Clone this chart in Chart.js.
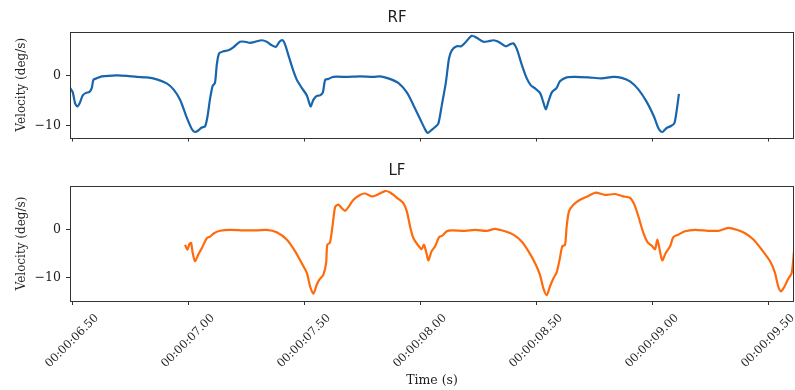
<!DOCTYPE html>
<html>
<head>
<meta charset="utf-8">
<script src="https://cdn.jsdelivr.net/npm/chart.js@4/dist/chart.umd.min.js"></script>
<style>
  body { margin: 0; background: #fff; }
  #wrap-rf { position: absolute; left: 0; top: 0; width: 795px; height: 150px; }
  #wrap-lf { position: absolute; left: 0; top: 160px; width: 795px; height: 230px; }
</style>
</head>
<body>
<div id="wrap-rf"><canvas id="chart-rf"></canvas></div>
<div id="wrap-lf"><canvas id="chart-lf"></canvas></div>
<script>
// ---- data (seconds / deg per second) ----
const rfTime = [6.491, 6.503, 6.513, 6.523, 6.534, 6.546, 6.560, 6.575, 6.585, 6.592, 6.606, 6.628, 6.693, 6.736, 6.779, 6.822, 6.865, 6.908, 6.937, 6.966, 6.994, 7.016, 7.030, 7.044, 7.059, 7.073, 7.083, 7.095, 7.106, 7.116, 7.124, 7.134, 7.152, 7.174, 7.195, 7.224, 7.246, 7.267, 7.289, 7.318, 7.339, 7.361, 7.379, 7.394, 7.408, 7.418, 7.432, 7.451, 7.469, 7.490, 7.512, 7.523, 7.529, 7.540, 7.555, 7.569, 7.581, 7.591, 7.605, 7.626, 7.684, 7.741, 7.799, 7.828, 7.863, 7.906, 7.943, 7.971, 8.000, 8.022, 8.033, 8.047, 8.065, 8.079, 8.094, 8.111, 8.125, 8.137, 8.158, 8.177, 8.194, 8.223, 8.244, 8.273, 8.294, 8.316, 8.338, 8.369, 8.388, 8.402, 8.417, 8.438, 8.460, 8.478, 8.496, 8.517, 8.531, 8.542, 8.553, 8.568, 8.589, 8.603, 8.632, 8.668, 8.725, 8.783, 8.833, 8.869, 8.905, 8.941, 8.977, 9.010, 9.027, 9.044, 9.063, 9.082, 9.096, 9.106, 9.116];
const rfVel = [-2.4, -3.3, -5.5, -6.1, -5.3, -3.9, -3.4, -3.2, -2.4, -0.8, -0.5, -0.1, 0.1, 0.0, -0.2, -0.3, -0.7, -1.5, -2.7, -4.8, -8.3, -10.6, -11.2, -10.9, -10.3, -10.1, -8.3, -4.5, -2.0, -1.4, 2.3, 4.5, 4.9, 5.1, 5.7, 6.8, 6.8, 6.6, 6.8, 7.1, 6.8, 6.1, 5.8, 6.8, 7.1, 6.3, 4.2, 1.4, -0.8, -2.4, -3.9, -5.5, -6.1, -4.8, -4.0, -3.9, -3.3, -0.8, -0.6, -0.2, -0.2, -0.1, -0.2, -0.1, -0.5, -1.4, -3.3, -5.8, -8.6, -10.7, -11.4, -10.9, -10.2, -9.5, -5.8, -1.4, 3.5, 5.1, 5.9, 5.9, 6.6, 8.0, 7.6, 6.8, 6.9, 7.1, 6.8, 5.9, 6.3, 6.5, 5.4, 2.3, -0.5, -1.9, -2.5, -3.4, -5.2, -6.7, -5.2, -3.3, -2.4, -1.1, -0.3, -0.2, -0.3, -0.5, -0.2, -0.4, -1.1, -2.7, -5.2, -8.3, -10.4, -11.2, -10.4, -10.0, -9.5, -7.0, -3.6];

const lfTime = [6.987, 6.997, 7.006, 7.013, 7.020, 7.030, 7.044, 7.059, 7.081, 7.095, 7.112, 7.138, 7.181, 7.238, 7.296, 7.339, 7.382, 7.425, 7.461, 7.490, 7.512, 7.526, 7.540, 7.555, 7.566, 7.583, 7.595, 7.600, 7.612, 7.626, 7.634, 7.648, 7.662, 7.677, 7.691, 7.713, 7.741, 7.763, 7.792, 7.813, 7.849, 7.871, 7.906, 7.928, 7.943, 7.957, 7.971, 7.993, 8.007, 8.017, 8.029, 8.036, 8.050, 8.065, 8.082, 8.096, 8.115, 8.137, 8.194, 8.237, 8.288, 8.323, 8.366, 8.402, 8.438, 8.467, 8.496, 8.517, 8.531, 8.546, 8.560, 8.575, 8.589, 8.603, 8.613, 8.625, 8.632, 8.642, 8.661, 8.690, 8.726, 8.757, 8.797, 8.841, 8.876, 8.905, 8.924, 8.941, 8.963, 8.981, 8.999, 9.013, 9.023, 9.033, 9.044, 9.059, 9.078, 9.092, 9.113, 9.142, 9.185, 9.243, 9.286, 9.329, 9.365, 9.401, 9.437, 9.473, 9.509, 9.530, 9.544, 9.556, 9.570, 9.585, 9.602, 9.612];
const lfVel = [-3.2, -4.2, -3.0, -2.8, -4.9, -6.6, -5.2, -3.9, -1.8, -1.5, -0.8, -0.3, -0.1, -0.2, -0.2, -0.1, -0.6, -2.1, -4.5, -7.0, -9.0, -11.8, -13.3, -11.4, -10.4, -9.4, -7.0, -3.2, -2.7, 2.0, 4.6, 5.1, 4.4, 3.8, 4.6, 6.1, 7.1, 7.4, 6.8, 7.1, 7.9, 7.6, 6.3, 5.4, 3.7, 0.6, -1.8, -3.4, -4.1, -3.2, -5.2, -6.4, -4.5, -3.5, -1.6, -1.3, -0.4, -0.2, -0.3, -0.1, -0.3, 0.1, -0.4, -1.1, -2.5, -4.5, -7.0, -9.4, -12.1, -13.6, -11.8, -10.1, -8.9, -5.9, -3.5, -3.2, 0.6, 3.7, 5.1, 6.1, 6.9, 7.6, 7.1, 7.3, 6.8, 6.5, 5.1, 2.7, -0.8, -2.7, -3.4, -4.1, -2.1, -4.2, -6.4, -4.9, -3.5, -1.6, -1.1, -0.4, -0.1, -0.3, -0.3, 0.3, -0.1, -0.8, -2.1, -4.2, -6.6, -9.0, -11.8, -12.8, -11.9, -10.4, -9.0, -4.5];

const xTicks = [6.5, 7.0, 7.5, 8.0, 8.5, 9.0, 9.5];
const yTicks = [-10, 0];

const X_MIN = 6.491, X_MAX = 9.612;
const INK = '#1e1e1e';
const SERIF = "'DejaVu Serif', serif";

function fmtTime(v) {
  return '00:00:' + v.toFixed(2).padStart(5, '0');
}

// full box around the plot area
const framePlugin = {
  id: 'frame',
  afterDraw(chart) {
    const { ctx, chartArea: a } = chart;
    ctx.save();
    ctx.strokeStyle = '#333';
    ctx.lineWidth = 1;
    ctx.strokeRect(Math.round(a.left) + 0.5, Math.round(a.top) + 0.5,
      Math.round(a.right - a.left) - 1, Math.round(a.bottom - a.top));
    ctx.restore();
  }
};

// rotated time labels, centred on their tick (matplotlib style)
const timeLabels = {
  id: 'timeLabels',
  afterDraw(chart) {
    const { ctx, chartArea: a } = chart;
    const sx = chart.scales.x;
    ctx.save();
    ctx.fillStyle = INK;
    ctx.font = "11.5px " + SERIF;
    ctx.textAlign = 'center';
    ctx.textBaseline = 'middle';
    xTicks.forEach(v => {
      const x = sx.getPixelForValue(v);
      ctx.save();
      ctx.translate(x, a.bottom + 40);
      ctx.rotate(-Math.PI / 4);
      ctx.fillText(fmtTime(v), 0, 0);
      ctx.restore();
    });
    ctx.restore();
  }
};

function makeChart(id, title, times, vels, color, yMin, yMax, bottom) {
  const titlePad = bottom ? { top: 2, bottom: 6 } : { top: 9, bottom: 5 };
  return new Chart(document.getElementById(id), {
    type: 'line',
    data: {
      datasets: [{
        data: times.map((t, i) => ({ x: t, y: vels[i] })),
        borderColor: color,
        borderWidth: 2.2,
        pointRadius: 0,
        tension: 0.25,
        fill: false
      }]
    },
    options: {
      responsive: true,
      maintainAspectRatio: false,
      animation: false,
      layout: { padding: { left: 0, right: 1, top: 0, bottom: 0 } },
      plugins: {
        legend: { display: false },
        tooltip: { enabled: false },
        title: {
          display: true,
          text: title,
          color: INK,
          font: { family: "'DejaVu Sans', sans-serif", size: 15, weight: 'normal', lineHeight: 1.2 },
          padding: titlePad
        }
      },
      scales: {
        x: {
          type: 'linear',
          min: X_MIN,
          max: X_MAX,
          afterBuildTicks: s => { s.ticks = xTicks.map(v => ({ value: v })); },
          afterFit: s => { s.height = bottom ? 89 : 5; },
          ticks: { display: false },
          grid: { drawOnChartArea: false, drawTicks: true, tickLength: 4, color: '#333' },
          border: { display: false },
          title: {
            display: bottom,
            text: 'Time (s)',
            color: INK,
            font: { family: SERIF, size: 12.5, lineHeight: 1.2 },
            padding: { top: 0, bottom: 2 }
          }
        },
        y: {
          min: yMin,
          max: yMax,
          afterBuildTicks: s => { s.ticks = yTicks.map(v => ({ value: v })); },
          afterFit: s => { s.width = 70; },
          ticks: {
            color: INK,
            font: { family: SERIF, size: 12.5 },
            padding: 5,
            callback: v => v < 0 ? '\u2212' + Math.abs(v) : String(v)
          },
          grid: { drawOnChartArea: false, drawTicks: true, tickLength: 4, color: '#333' },
          border: { display: false },
          title: {
            display: true,
            text: 'Velocity (deg/s)',
            color: INK,
            font: { family: SERIF, size: 12, lineHeight: 1.2 },
            padding: { top: 15, bottom: 0 }
          }
        }
      }
    },
    plugins: bottom ? [framePlugin, timeLabels] : [framePlugin]
  });
}

makeChart('chart-rf', 'RF', rfTime, rfVel, '#1765ad', -12.3, 8.75, false);
makeChart('chart-lf', 'LF', lfTime, lfVel, '#ff6a0a', -14.8, 8.95, true);
</script>
</body>
</html>
